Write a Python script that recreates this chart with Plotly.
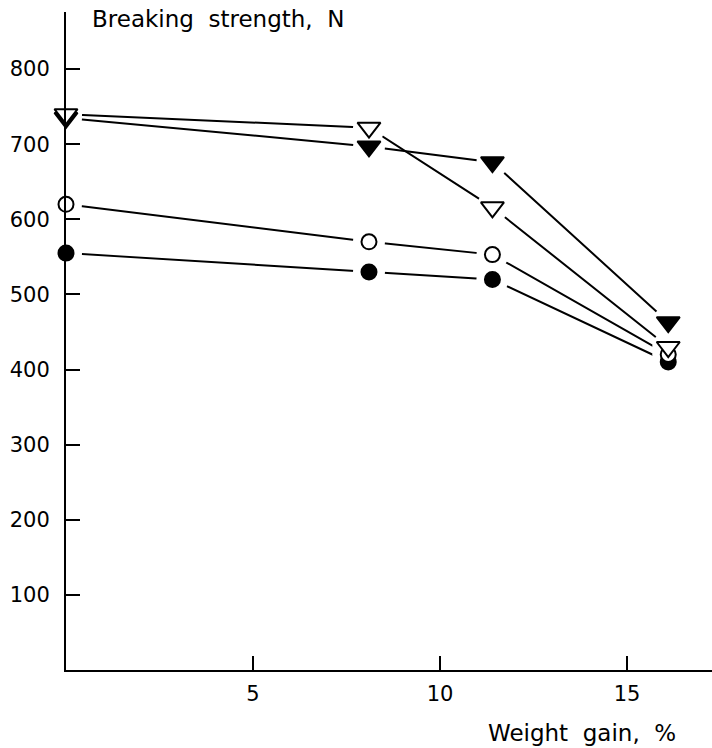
import plotly.graph_objects as go

weight_gain = [0, 8.1, 11.4, 16.1]
open_tri = [740, 722, 616, 430]
filled_tri = [735, 697, 676, 463]
open_circ = [620, 570, 553, 420]
filled_circ = [555, 530, 520, 410]

y_ticks = [100, 200, 300, 400, 500, 600, 700, 800]
x_ticks = [5, 10, 15]

series = [
    (filled_circ, "circle", "black"),
    (open_circ, "circle", "white"),
    (filled_tri, "triangle-down", "black"),
    (open_tri, "triangle-down", "white"),
]

fig = go.Figure()
# lines
for ys, sym, fill in series:
    fig.add_trace(go.Scatter(x=weight_gain, y=ys, mode="lines",
                             line=dict(color="black", width=2),
                             hoverinfo="skip", showlegend=False, cliponaxis=False))
# white halos to create gaps between lines and markers
for ys, sym, fill in series:
    fig.add_trace(go.Scatter(x=weight_gain, y=ys, mode="markers",
                             marker=dict(symbol="circle", size=32, color="white",
                                         line=dict(width=0)),
                             hoverinfo="skip", showlegend=False, cliponaxis=False))
# markers
for ys, sym, fill in series:
    size = 15 if sym == "circle" else 20
    fig.add_trace(go.Scatter(x=weight_gain, y=ys, mode="markers",
                             marker=dict(symbol=sym, size=size, color=fill,
                                         line=dict(color="black", width=2)),
                             showlegend=False, cliponaxis=False))

font = dict(family="DejaVu Sans", size=21, color="black")
title_font = dict(family="DejaVu Sans", size=23, color="black")

fig.update_layout(
    width=712, height=748,
    margin=dict(l=66, r=0, t=12, b=78),
    paper_bgcolor="white", plot_bgcolor="white",
    font=font,
    xaxis=dict(range=[0, 17.27], tickmode="array", tickvals=x_ticks,
               ticktext=[str(v) for v in x_ticks],
               ticks="inside", ticklen=14, tickwidth=2, tickcolor="black",
               showline=True, linecolor="black", linewidth=2,
               showgrid=False, zeroline=False, tickfont=font,
               ticklabelstandoff=4),
    yaxis=dict(range=[0, 876], tickmode="array", tickvals=y_ticks,
               ticktext=[str(v) for v in y_ticks],
               ticks="inside", ticklen=14, tickwidth=2, tickcolor="black",
               showline=True, linecolor="black", linewidth=2,
               showgrid=False, zeroline=False, tickfont=font,
               ticklabelstandoff=10),
    annotations=[
        dict(text="Breaking\u00a0 strength,\u00a0 N", xref="paper", yref="paper",
             x=(90 - 66) / 646, y=1.0, xanchor="left", yanchor="middle",
             yshift=-7, showarrow=False, font=title_font),
        dict(text="Weight\u00a0 gain,\u00a0 %", xref="paper", yref="paper",
             x=1.0, y=0, xanchor="right", yanchor="middle", xshift=-34,
             yshift=-63, showarrow=False, font=title_font),
    ],
)

fig.write_html(
    "out.html",
    config={"displayModeBar": False},
    post_script="document.body.style.margin='0';document.body.style.overflow='hidden';",
)
